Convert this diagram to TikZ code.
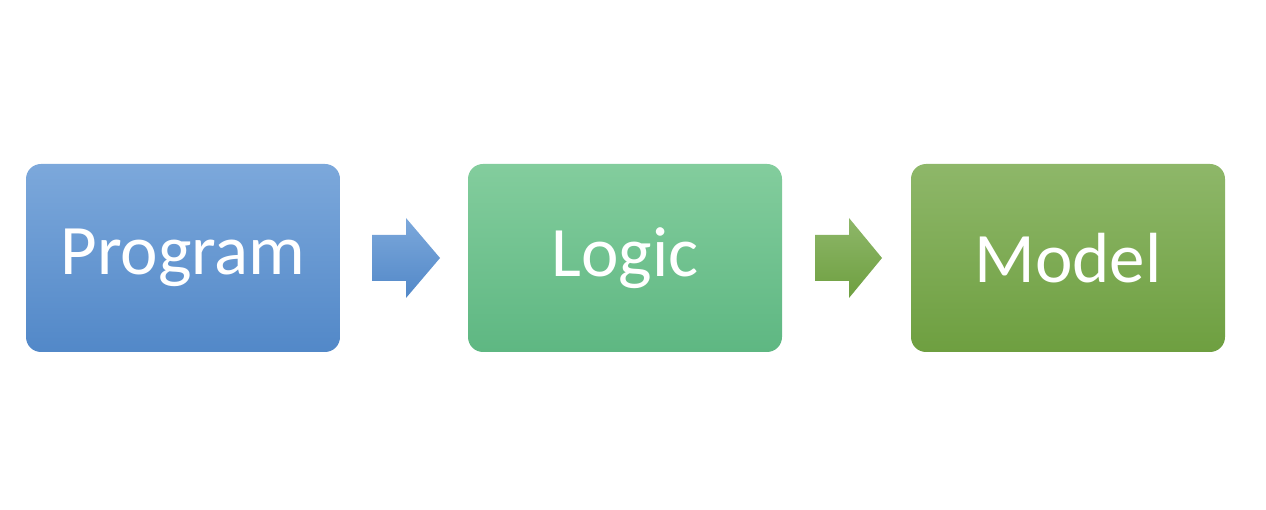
\documentclass[tikz,border=0pt]{standalone}
\usepackage{fontspec}
\setmainfont{Carlito}
\definecolor{bT}{HTML}{7CA8DB}\definecolor{bB}{HTML}{5288C8}
\definecolor{gT}{HTML}{83CD9D}\definecolor{gB}{HTML}{5EB782}
\definecolor{mT}{HTML}{8EB769}\definecolor{mB}{HTML}{6E9F40}
\begin{document}
\begin{tikzpicture}[x=1pt,y=-1pt,
  blk/.style={rounded corners=15pt,minimum width=314pt,minimum height=188pt,inner sep=0pt,
    text=white,font=\fontsize{71}{71}\selectfont}]
\useasboundingbox (0,0) rectangle (1266,510);
\node[blk,top color=bT,bottom color=bB] (p) at (183,258) {Program};
\node[blk,top color=gT,bottom color=gB] (l) at (625,258) {Logic};
\node[blk,top color=mT,bottom color=mB] (m) at (1068,258) {Model};
\shade[top color=bT,bottom color=bB] (372,235) -- (406,235) -- (406,218) -- (440,258) -- (406,298) -- (406,281) -- (372,281) -- cycle;
\shade[top color=mT,bottom color=mB] (815,235) -- (849,235) -- (849,218) -- (882,258) -- (849,298) -- (849,281) -- (815,281) -- cycle;
\end{tikzpicture}
\end{document}
